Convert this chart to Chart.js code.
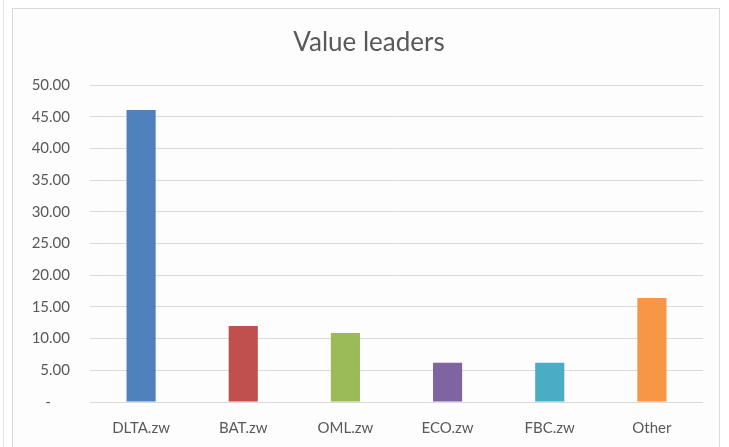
<!DOCTYPE html>
<html>
<head>
<meta charset="utf-8">
<script src="https://cdn.jsdelivr.net/npm/chart.js@4"></script>
<style>
  html, body { margin: 0; padding: 0; background: #ffffff; }
  #wrap { position: relative; width: 729px; height: 447px; overflow: hidden; background: #ffffff; }
  #frame { position: absolute; left: 12px; top: 8px; width: 708px; height: 460px; border: 1px solid #d9d9d9; background: #fdfdfd; box-sizing: border-box; }
  #edge { position: absolute; left: 3px; top: 0; width: 1px; height: 447px; background: #e3e3e3; }
  canvas { position: absolute; left: 0; top: 0; }
</style>
</head>
<body>
<div id="wrap">
  <div id="edge"></div>
  <div id="frame"></div>
  <canvas id="c" width="729" height="447"></canvas>
</div>
<script>
const title = "Value leaders";
const categories = ["DLTA.zw", "BAT.zw", "OML.zw", "ECO.zw", "FBC.zw", "Other"];
const values = [46.1, 12.0, 10.9, 6.2, 6.2, 16.4];
const barColors = ["#4f81bd", "#c0504d", "#9bbb59", "#8064a2", "#4bacc6", "#f79646"];
const yMin = 0, yMax = 50, yStep = 5;

const textColor = "#595959";
const fontFamily = "Lato, 'Open Sans', sans-serif";

// centre the title over the whole frame rather than the padded layout box
const titleShift = {
  id: "titleShift",
  afterLayout(chart) {
    const t = chart.titleBlock;
    if (t) { t.left = 18; t.right = 720; t.width = t.right - t.left; }
  }
};

new Chart(document.getElementById("c"), {
  type: "bar",
  data: {
    labels: categories,
    datasets: [{
      data: values,
      backgroundColor: barColors,
      borderWidth: 0,
      categoryPercentage: 1.0,
      barPercentage: 0.285
    }]
  },
  options: {
    responsive: false,
    animation: false,
    devicePixelRatio: 1,
    layout: { padding: { left: 0, right: 26, top: 0, bottom: 0 } },
    plugins: {
      legend: { display: false },
      tooltip: { enabled: false },
      title: {
        display: true,
        text: title,
        color: textColor,
        font: { family: fontFamily, size: 26, weight: "normal" },
        padding: { top: 27, bottom: 27 }
      }
    },
    scales: {
      x: {
        grid: { display: false, drawTicks: false },
        border: { display: false },
        ticks: { color: textColor, font: { family: fontFamily, size: 15 }, padding: 17 },
        afterFit: (s) => { s.height = 45; }
      },
      y: {
        min: yMin, max: yMax,
        grid: { color: "#d9d9d9", lineWidth: 1, drawTicks: false },
        border: { display: false },
        ticks: {
          stepSize: yStep,
          color: textColor,
          font: { family: fontFamily, size: 15 },
          padding: 20,
          callback: (v) => v === 0 ? "-     " : Number(v).toFixed(2)
        },
        afterFit: (s) => { s.width = 90; }
      }
    }
  },
  plugins: [titleShift]
});
</script>
</body>
</html>
